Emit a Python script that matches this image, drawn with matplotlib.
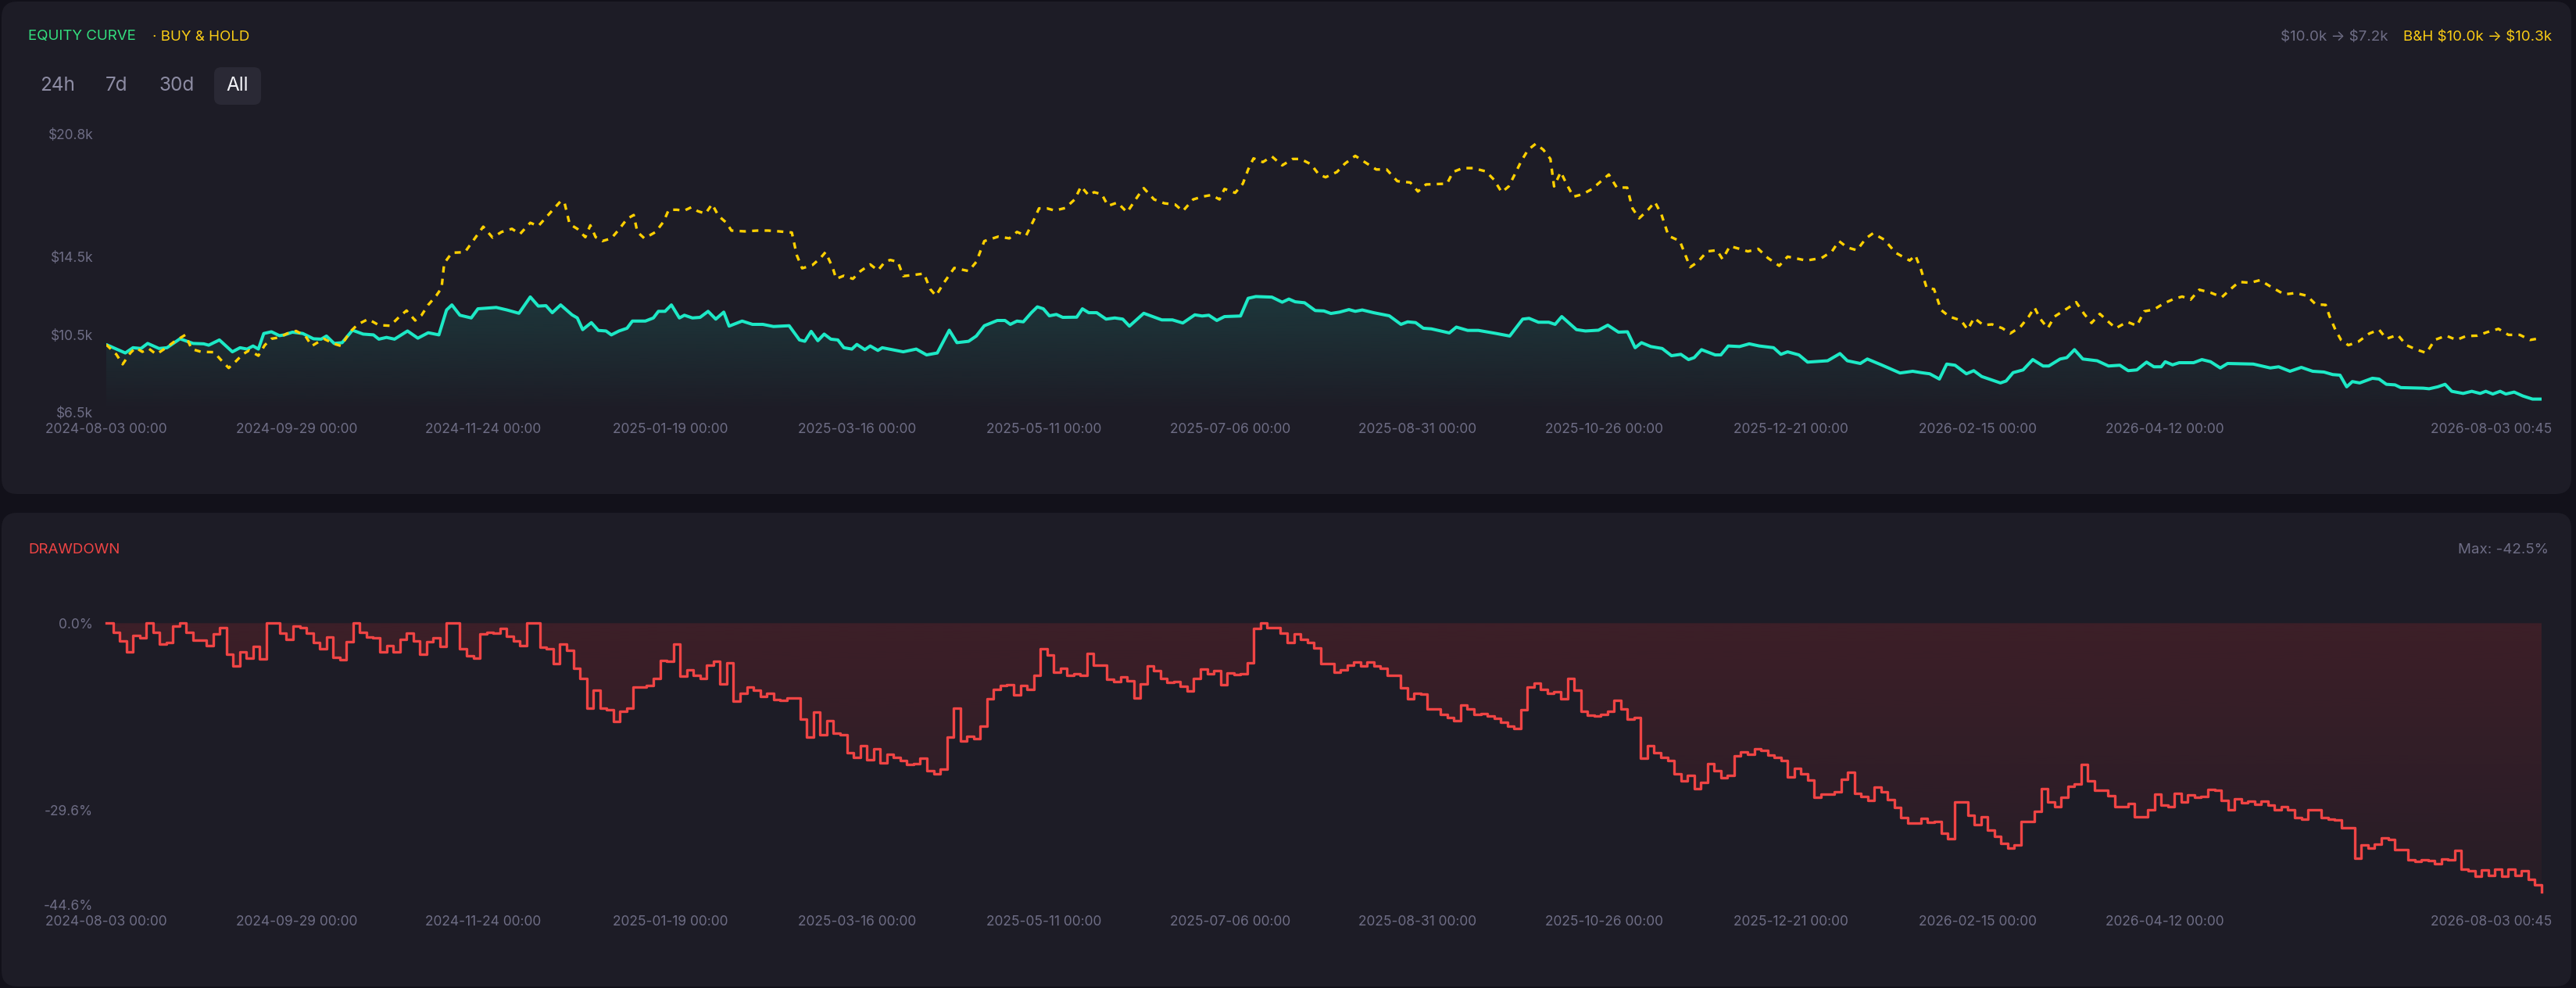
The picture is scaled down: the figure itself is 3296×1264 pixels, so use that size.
import numpy as np
import pandas as pd
import matplotlib
matplotlib.use("Agg")
import matplotlib.pyplot as plt
from matplotlib.colors import to_rgb
from matplotlib.patches import FancyBboxPatch
from matplotlib.transforms import ScaledTranslation

plt.rcParams['font.family'] = ['Inter', 'DejaVu Sans']

# ---- data (days since 2024-08-03 00:00, values in $k) ----
start = pd.Timestamp('2024-08-03 00:00')
tick_labels = ['2024-08-03 00:00', '2024-09-29 00:00', '2024-11-24 00:00', '2025-01-19 00:00',
               '2025-03-16 00:00', '2025-05-11 00:00', '2025-07-06 00:00', '2025-08-31 00:00',
               '2025-10-26 00:00', '2025-12-21 00:00', '2026-02-15 00:00', '2026-04-12 00:00',
               '2026-08-03 00:45']
eq_ticks = [6.5, 10.5, 14.5, 20.8]
eq_tick_labels = ['$6.5k', '$10.5k', '$14.5k', '$20.8k']
dd_ticks = [-44.6, -29.6, 0.0]
dd_tick_labels = ['-44.6%', '-29.6%', '0.0%']

eq_days = [0, 5.7, 8, 10.4, 12.4, 15.8, 18.2, 22.1, 26, 29.2, 30.7, 33.9, 37.8, 40.1, 42.2, 44, 45.6,
           47.2, 49.5, 51.9, 53.4, 55.8, 58.9, 62.1, 64.4, 66, 68.3, 70.7, 73.8, 77, 80.1, 81.7, 84,
           86.4, 90.3, 93.4, 96.5, 99.7, 102, 103.6, 106, 109.4, 111.4, 116.9, 120.1, 123.7, 127.1,
           129.5, 131.8, 133.7, 136.2, 139.6, 141.2, 142.8, 145.4, 147.5, 149.8, 151.4, 153.7, 156.1,
           157.7, 161.6, 164, 165.5, 167.5, 169.4, 171.8, 173.3, 175.7, 178, 180.4, 182.7, 185.1,
           186.7, 190.6, 193.7, 196.8, 200, 204.7, 207.8, 209.4, 211.3, 213.3, 215.2, 217.2, 219.3,
           221.1, 223.5, 225, 227.4, 229, 231.3, 232.6, 238.9, 242.8, 245.9, 249.1, 252.7, 255, 258.5,
           260.8, 263.2, 267.1, 269.4, 271, 273, 274.9, 277.3, 279.1, 280.9, 282.7, 284.8, 286.7,
           290.9, 292.6, 294.5, 296.9, 299.7, 302.3, 304.7, 306.7, 311, 316.4, 319.6, 322.7, 326.3,
           328.5, 330.5, 332.9, 335.2, 340, 342.3, 344.6, 349.4, 352.5, 354.5, 356.4, 359.2, 362.4,
           365, 367.1, 369.7, 372.5, 374.4, 376.5, 379.9, 384.6, 388.1, 390.1, 392.5, 394.8, 397.2,
           402.6, 404.7, 408.1, 411.3, 416.7, 420.7, 424.6, 426.5, 429.3, 432.4, 434.3, 436.3, 440.7,
           443.4, 447.3, 450.1, 453.3, 456, 458.3, 460.2, 463, 466.4, 469.2, 472, 474.3, 476, 478.2,
           482.3, 484, 486.2, 489.6, 492.5, 495.5, 499.8, 502, 504, 507.4, 510, 516, 519.7, 521.9,
           525.8, 527.9, 532.1, 537.7, 541.5, 544, 546.6, 549.5, 551.7, 554.2, 557.6, 559.8, 562.2,
           567.8, 569.5, 571.6, 574.6, 577.5, 580.6, 582.3, 585.7, 587.7, 590, 592.5, 596.8, 600.2,
           603.6, 606.1, 608.7, 611.6, 613.8, 616, 617.2, 619.4, 621.4, 625.7, 628.2, 630.8, 633.7,
           635.9, 643.6, 646.1, 648.7, 651.2, 654.6, 658, 661.4, 664.8, 667.4, 669.6, 671.6, 673.3,
           675.5, 679.3, 681.3, 683.5, 686.1, 687.8, 694.6, 696.3, 698.9, 701.1, 703.1, 706.5, 709.1,
           711.6, 713.3, 715.4, 717.6, 719.3, 721.8, 724.4, 727.3, 730]
eq_vals = [10.0, 9.57, 9.84, 9.8, 10.06, 9.8, 9.84, 10.3, 10.06, 10.04, 9.97, 10.24, 9.63, 9.84, 9.77,
           9.93, 9.77, 10.57, 10.66, 10.46, 10.5, 10.64, 10.57, 10.3, 10.28, 10.44, 10.06, 10.1, 10.74,
           10.54, 10.5, 10.28, 10.37, 10.28, 10.7, 10.33, 10.61, 10.5, 11.78, 12.04, 11.51, 11.37,
           11.84, 11.91, 11.78, 11.61, 12.45, 11.98, 12.0, 11.64, 12.04, 11.53, 11.37, 10.77, 11.13,
           10.73, 10.7, 10.5, 10.7, 10.84, 11.21, 11.21, 11.37, 11.71, 11.71, 12.04, 11.37, 11.51,
           11.37, 11.4, 11.71, 11.31, 11.67, 10.95, 11.21, 11.04, 11.04, 10.93, 10.97, 10.24, 10.17,
           10.68, 10.2, 10.54, 10.28, 10.24, 9.84, 9.77, 10.01, 9.74, 9.93, 9.7, 9.84, 9.63, 9.77,
           9.47, 9.57, 10.74, 10.1, 10.17, 10.44, 10.97, 11.24, 11.24, 11.04, 11.21, 11.17, 11.64,
           11.94, 11.84, 11.48, 11.55, 11.4, 11.41, 11.84, 11.64, 11.64, 11.31, 11.37, 11.31, 10.95,
           11.61, 11.27, 11.27, 11.11, 11.53, 11.47, 11.51, 11.24, 11.44, 11.47, 12.38, 12.47, 12.44,
           12.18, 12.34, 12.2, 12.15, 11.75, 11.73, 11.6, 11.67, 11.8, 11.71, 11.78, 11.64, 11.48,
           11.04, 11.17, 11.13, 10.84, 10.81, 10.6, 10.9, 10.73, 10.73, 10.57, 10.44, 11.31, 11.35,
           11.15, 11.15, 11.04, 11.44, 10.77, 10.7, 10.74, 11.0, 10.64, 10.66, 9.84, 10.1, 9.9, 9.8,
           9.43, 9.5, 9.23, 9.33, 9.74, 9.47, 9.47, 9.93, 9.9, 10.04, 9.93, 9.84, 9.5, 9.63, 9.47,
           9.1, 9.17, 9.54, 9.17, 9.03, 9.26, 8.96, 8.54, 8.63, 8.56, 8.5, 8.23, 9.0, 8.94, 8.5, 8.66,
           8.36, 8.03, 8.13, 8.56, 8.7, 9.23, 8.9, 8.9, 9.26, 9.33, 9.74, 9.26, 9.17, 8.9, 8.94, 8.66,
           8.7, 9.1, 8.86, 8.86, 9.12, 8.96, 9.07, 9.07, 9.23, 9.12, 8.8, 9.03, 9.0, 8.9, 8.8, 8.86,
           8.63, 8.83, 8.63, 8.59, 8.46, 8.43, 7.83, 8.1, 8.03, 8.27, 8.23, 7.96, 7.93, 7.79, 7.76,
           7.73, 7.83, 7.96, 7.6, 7.49, 7.6, 7.49, 7.6, 7.46, 7.6, 7.46, 7.56, 7.36, 7.2, 7.2]

bh_days = [0, 3, 4.9, 7.2, 8.8, 10.8, 12.7, 15, 18.2, 20.5, 23.7, 25.6, 28.4, 32.3, 34.6, 36.7, 38.6,
           40.9, 42.8, 45.6, 47.5, 49.5, 51.9, 54.2, 56.9, 59.7, 61.6, 65.2, 68.3, 70.4, 73, 75.4,
           78.5, 81.7, 85.1, 87.9, 90, 92.6, 94.5, 96.5, 98.9, 100.5, 101.3, 103.6, 107.5, 110.2, 113,
           115.8, 118.5, 121.6, 124, 127.1, 129.5, 131.8, 134.6, 136.2, 137.3, 138.9, 141.2, 143.6,
           145.1, 146.7, 148.7, 151.4, 153.7, 156.1, 158.1, 159.2, 161.3, 164.7, 167.1, 168.6, 171,
           173.3, 175.4, 177.3, 179.6, 181.6, 183.5, 185.9, 187.4, 191.4, 195.3, 198.4, 201.6, 205.5,
           207, 208.6, 211.7, 214.1, 215.6, 217.7, 218.8, 221.1, 223.8, 226.1, 229, 231.3, 233.4, 235,
           237.3, 238.9, 242, 245.1, 247, 248.7, 251.1, 254.2, 258.5, 260.8, 263.2, 267.4, 270.7, 273,
           275.7, 278, 279.6, 282, 284.3, 287.5, 290.3, 292.2, 294.5, 296.1, 298.4, 300.3, 303.1, 306,
           309.4, 311, 314.1, 317.2, 320.4, 322.7, 325.8, 328.5, 331.3, 333.7, 335.2, 338.4, 340.7,
           342.3, 343.9, 346.7, 349.4, 352.5, 355.6, 358, 361.1, 363.5, 365.5, 368.9, 371.3, 374.4,
           377.6, 380.7, 383.8, 387, 390.9, 393.2, 395.6, 401.9, 403.7, 406.6, 409.7, 413.6, 416,
           418.3, 420.4, 422.2, 424.1, 426.2, 428.5, 430.8, 432.9, 434, 436, 437.9, 439.8, 442.6,
           445.4, 448.1, 450.4, 452.8, 455.9, 457.5, 459.5, 462.2, 464.2, 466.1, 468.3, 471.7, 474.8,
           477.1, 479.9, 482.8, 484.5, 486.7, 489.6, 492.1, 495.2, 498.1, 501.5, 504, 509.6, 514.2,
           517.3, 519.4, 521.9, 524.8, 527.5, 529.6, 533, 536.4, 540.6, 542.3, 544, 545.7, 547.9, 550,
           552.5, 556, 558, 559.9, 562.7, 565.3, 568.4, 570.7, 573.8, 576.3, 578, 579.8, 582, 584,
           586.1, 588.3, 590.5, 592.9, 595.1, 597.6, 600.2, 602.4, 605.8, 608.7, 610.9, 613.8, 616.7,
           619.7, 622.3, 624.8, 627.4, 630.8, 634.2, 636.8, 639.3, 642.7, 645.6, 649.5, 652.9, 656.3,
           659.7, 662.3, 665.3, 666.5, 668.2, 669.9, 672.1, 675, 678.4, 681.3, 683.5, 686.9, 689.5,
           692.6, 695.5, 698, 701.4, 704.5, 707.4, 710.8, 713.7, 717.1, 720.1, 723.5, 726.6, 730]
bh_vals = [10.0, 9.5, 8.99, 9.57, 9.84, 9.63, 9.8, 9.5, 9.87, 10.17, 10.5, 9.77, 9.63, 9.61, 9.17, 8.8,
           9.1, 9.5, 9.7, 9.43, 9.97, 10.3, 10.37, 10.57, 10.7, 10.44, 9.93, 10.3, 10.04, 9.93, 10.64,
           11.04, 11.31, 11.0, 10.97, 11.44, 11.75, 11.24, 11.51, 12.04, 12.51, 12.91, 14.18, 14.72,
           14.75, 15.39, 16.06, 15.5, 15.79, 15.95, 15.68, 16.26, 16.09, 16.53, 17.06, 17.37, 17.33,
           16.19, 15.95, 15.52, 16.13, 15.52, 15.32, 15.46, 15.92, 16.46, 16.66, 15.79, 15.46, 15.79,
           16.33, 16.93, 16.93, 16.89, 17.06, 16.86, 16.73, 17.22, 16.62, 16.26, 15.86, 15.82, 15.86,
           15.86, 15.82, 15.76, 14.59, 13.92, 14.09, 14.45, 14.75, 13.98, 13.38, 13.54, 13.38, 13.78,
           14.12, 13.81, 14.25, 14.35, 14.25, 13.52, 13.58, 13.65, 12.85, 12.51, 13.18, 13.94, 13.78,
           14.25, 15.32, 15.55, 15.46, 15.79, 15.59, 16.39, 17.0, 17.0, 16.89, 17.02, 17.46, 18.13,
           17.67, 17.83, 17.73, 17.13, 17.3, 16.8, 17.67, 18.04, 17.46, 17.26, 17.2, 16.86, 17.46,
           17.6, 17.69, 17.46, 18.0, 17.8, 18.27, 19.0, 19.57, 19.38, 19.67, 19.21, 19.54, 19.54,
           19.27, 18.74, 18.6, 18.87, 19.3, 19.7, 19.34, 19.0, 19.0, 18.4, 18.33, 17.87, 18.23, 18.27,
           18.87, 19.07, 19.07, 18.9, 18.47, 17.83, 18.13, 18.74, 19.41, 20.01, 20.32, 20.01, 19.54,
           18.13, 18.87, 18.2, 17.6, 17.73, 18.0, 18.4, 18.74, 18.07, 18.07, 17.0, 16.49, 16.93, 17.33,
           16.73, 15.59, 15.32, 13.98, 14.25, 14.79, 14.85, 14.39, 15.06, 14.92, 14.79, 14.92, 14.45,
           14.05, 14.52, 14.32, 14.45, 14.79, 15.32, 14.99, 14.85, 15.46, 15.72, 15.39, 14.72, 14.32,
           14.59, 13.85, 12.91, 12.85, 11.78, 11.44, 11.24, 10.77, 11.37, 11.0, 11.04, 10.84, 10.57,
           10.91, 11.44, 11.91, 11.31, 10.84, 11.44, 11.67, 11.91, 12.18, 11.58, 11.11, 11.58, 11.17,
           10.84, 11.17, 10.97, 11.71, 11.8, 12.11, 12.34, 12.47, 12.31, 12.82, 12.67, 12.44, 12.85,
           13.22, 13.18, 13.31, 12.91, 12.58, 12.65, 12.51, 12.07, 12.04, 11.44, 10.77, 10.24, 9.97,
           10.14, 10.57, 10.77, 10.3, 10.5, 9.97, 9.74, 9.57, 10.24, 10.46, 10.24, 10.44, 10.46, 10.64,
           10.81, 10.5, 10.5, 10.24, 10.34]

# drawdown in %, one value every 2 days
dd_vals = [0, -1.5, -2.8, -4.6, -1.9, -2.3, 0, -1.5, -3.3, -3.1,
           -0.45, 0, -1.5, -2.7, -2.7, -3.6, -1.7, -0.74, -4.9, -6.8,
           -4.5, -5.5, -3.7, -5.7, 0, 0, -1.6, -2.6, -0.45, -0.74,
           -1.6, -3.1, -4.0, -2.2, -5.4, -5.8, -2.9, 0, -1.5, -2.2,
           -2.3, -4.5, -3.6, -4.5, -2.5, -1.6, -2.8, -4.9, -2.9, -2.3,
           -3.7, 0, 0, -4.0, -5.1, -5.5, -1.7, -1.4, -1.6, -0.8,
           -2.1, -2.8, -3.6, 0, 0, -3.8, -4.0, -6.4, -3.3, -4.3,
           -7.1, -8.8, -13.4, -10.6, -13.5, -13.7, -15.5, -13.9, -13.4, -10.1,
           -10.1, -9.9, -8.7, -5.9, -6.0, -3.3, -8.4, -7.4, -8.3, -8.7,
           -6.6, -6.0, -9.6, -6.3, -12.3, -11.1, -10.1, -10.6, -11.6, -11.1,
           -12.1, -12.2, -11.9, -11.8, -15.2, -18.0, -14.1, -17.6, -15.4, -17.4,
           -17.6, -20.5, -21.3, -19.4, -21.6, -19.9, -22.1, -20.8, -21.2, -21.7,
           -22.4, -22.2, -21.4, -23.4, -23.8, -23.1, -18.0, -13.4, -18.7, -17.9,
           -18.3, -16.3, -12.0, -10.5, -9.9, -9.7, -11.3, -9.9, -10.5, -8.2,
           -4.1, -5.0, -7.8, -7.2, -8.3, -8.0, -8.3, -4.8, -6.6, -6.7,
           -8.9, -9.2, -8.5, -9.1, -11.8, -9.6, -6.8, -7.5, -8.7, -9.4,
           -9.2, -10.0, -10.7, -8.8, -7.3, -8.0, -7.5, -9.7, -7.9, -8.1,
           -8.0, -6.3, -0.8, 0, -0.66, -0.74, -1.6, -3.0, -1.65, -2.6,
           -3.0, -3.9, -6.4, -6.4, -7.7, -7.4, -6.6, -6.1, -6.8, -6.1,
           -6.8, -7.1, -8.2, -8.3, -10.2, -12.0, -11.1, -11.2, -13.6, -13.6,
           -14.4, -14.9, -15.4, -13.0, -13.6, -14.4, -14.3, -14.7, -15.1, -15.7,
           -16.3, -16.7, -13.7, -10.1, -9.5, -10.5, -11.1, -10.9, -12.0, -8.7,
           -10.6, -13.9, -14.6, -14.7, -14.4, -14.0, -12.2, -13.6, -15.2, -14.9,
           -21.4, -19.4, -20.5, -21.2, -21.7, -23.9, -25.0, -24.1, -26.2, -25.2,
           -22.2, -23.3, -24.5, -24.1, -21.0, -20.4, -20.8, -19.9, -20.1, -20.9,
           -21.2, -21.8, -24.3, -23.0, -23.8, -24.8, -27.5, -27.1, -27.1, -26.7,
           -24.7, -23.6, -26.9, -27.4, -28.0, -26.0, -26.7, -27.9, -29.2, -30.8,
           -31.6, -31.6, -30.9, -31.5, -31.4, -33.3, -34.1, -28.3, -28.3, -30.4,
           -31.9, -30.7, -32.8, -33.7, -34.8, -35.6, -35.1, -31.4, -31.4, -29.8,
           -26.2, -28.3, -29.0, -27.6, -25.8, -25.4, -22.4, -25.0, -26.4, -26.4,
           -27.3, -29.0, -29.0, -28.6, -30.6, -30.7, -29.6, -27.1, -28.8, -29.0,
           -26.9, -28.3, -27.2, -27.5, -27.4, -26.3, -26.5, -28.0, -29.5, -27.8,
           -28.4, -28.2, -28.7, -28.2, -28.8, -29.5, -29.1, -29.5, -30.8, -31.0,
           -29.5, -29.5, -30.8, -31.0, -31.1, -32.4, -32.4, -37.2, -35.1, -35.6,
           -35.0, -34.0, -34.2, -35.9, -35.9, -37.4, -37.7, -37.4, -37.6, -38.1,
           -37.3, -37.5, -36.0, -38.9, -39.2, -40.1, -39.1, -39.9, -38.9, -40.1,
           -39.0, -39.9, -39.2, -40.6, -41.4, -42.5]
dd_days = np.arange(len(dd_vals)) * 2.0

# ---- styling ----
BG = '#12111a'
PANEL = '#1d1c26'
GREY = '#6e6d85'
TEAL = '#1de9c6'
YELLOW = '#ffd000'
RED = '#ef4444'
W, H = 3296, 1264

tick_days = [(pd.Timestamp(t) - start).total_seconds() / 86400 for t in tick_labels]
x_end = tick_days[-1]

fig = plt.figure(figsize=(W / 100, H / 100), dpi=100, facecolor=BG)

# background layer in pixel coordinates
bg = fig.add_axes([0, 0, 1, 1])
bg.set_xlim(0, W)
bg.set_ylim(H, 0)
bg.axis('off')
for y0, y1 in [(2, 632), (656, 1262)]:
    bg.add_patch(FancyBboxPatch((2, y0), 3288, y1 - y0, boxstyle='round,pad=0,rounding_size=20',
                                fc=PANEL, ec='none'))
bg.add_patch(FancyBboxPatch((274, 86), 60, 48, boxstyle='round,pad=0,rounding_size=9',
                            fc='#2a2935', ec='none'))

bg.text(36, 47, 'EQUITY CURVE', color='#34e07f', fontsize=13.5, va='center', parse_math=False)
bg.text(195, 47, '· BUY & HOLD', color='#facc15', fontsize=13.5, va='center', parse_math=False)
bg.text(3056, 47, '$10.0k → $7.2k', color=GREY, fontsize=13.5, va='center', ha='right',
        parse_math=False)
bg.text(3265, 47, 'B&H $10.0k → $10.3k', color='#facc15', fontsize=13.5, va='center', ha='right',
        parse_math=False)
for label, cx in zip(['24h', '7d', '30d', 'All'], [73.5, 149, 226.5, 304]):
    bg.text(cx, 110, label, color='#f2f2f7' if label == 'All' else '#8d8ca3', fontsize=17.5,
            ha='center', va='center')
bg.text(36, 704, 'DRAWDOWN', color=RED, fontsize=13.5, va='center')
bg.text(3261, 703, 'Max: -42.5%', color=GREY, fontsize=13.5, va='center', ha='right',
        parse_math=False)


def gradient_fill(ax, x, y, base, lo, hi, color, a_top, a_bot, step=None):
    poly = ax.fill_between(x, y, base, step=step, facecolor='none', edgecolor='none')
    rgba = np.zeros((256, 1, 4))
    rgba[..., :3] = to_rgb(color)
    rgba[..., 3] = np.linspace(a_top, a_bot, 256)[:, None]
    im = ax.imshow(rgba, extent=[x[0], x[-1], lo, hi], origin='upper', aspect='auto',
                   interpolation='bilinear', zorder=1)
    im.set_clip_path(poly.get_paths()[0], ax.transData)


def style_axis(ax, yticks, ylabels):
    ax.set_facecolor('none')
    for s in ax.spines.values():
        s.set_visible(False)
    ax.set_xticks(tick_days, tick_labels)
    ax.set_yticks(yticks, ylabels)
    ax.tick_params(length=0, labelsize=12.5, labelcolor=GREY)
    ax.tick_params(axis='x', pad=9.5)
    ax.tick_params(axis='y', pad=12)
    last = ax.get_xticklabels()[-1]
    last.set_ha('right')
    last.set_transform(last.get_transform() + ScaledTranslation(0.13, 0, fig.dpi_scale_trans))


# ---- equity panel ----
ax1 = fig.add_axes([136 / W, 1 - 528 / H, 3116 / W, 356 / H])
gradient_fill(ax1, np.array(eq_days), np.array(eq_vals), 6.5, 6.5, 20.8, TEAL, 0.32, 0.0)
ax1.plot(eq_days, eq_vals, color=TEAL, lw=2.9, zorder=3, solid_joinstyle='round',
         solid_capstyle='round')
ax1.plot(bh_days, bh_vals, color=YELLOW, lw=2.4, dashes=(2.4, 2.4), zorder=4)
ax1.set_xlim(0, x_end)
ax1.set_ylim(6.5, 20.8)
style_axis(ax1, eq_ticks, eq_tick_labels)

# ---- drawdown panel ----
ax2 = fig.add_axes([136 / W, 1 - 1157.7 / H, 3116 / W, 360.4 / H])
gradient_fill(ax2, dd_days, np.array(dd_vals), 0, -42.5, 0, '#e53033', 0.16, 0.05, step='post')
ax2.step(dd_days, dd_vals, where='post', color=RED, lw=2.4, zorder=3, clip_on=False)
ax2.set_xlim(0, x_end)
ax2.set_ylim(-44.6, 0)
style_axis(ax2, dd_ticks, dd_tick_labels)

fig.savefig('out.png', dpi=100, facecolor=BG)
